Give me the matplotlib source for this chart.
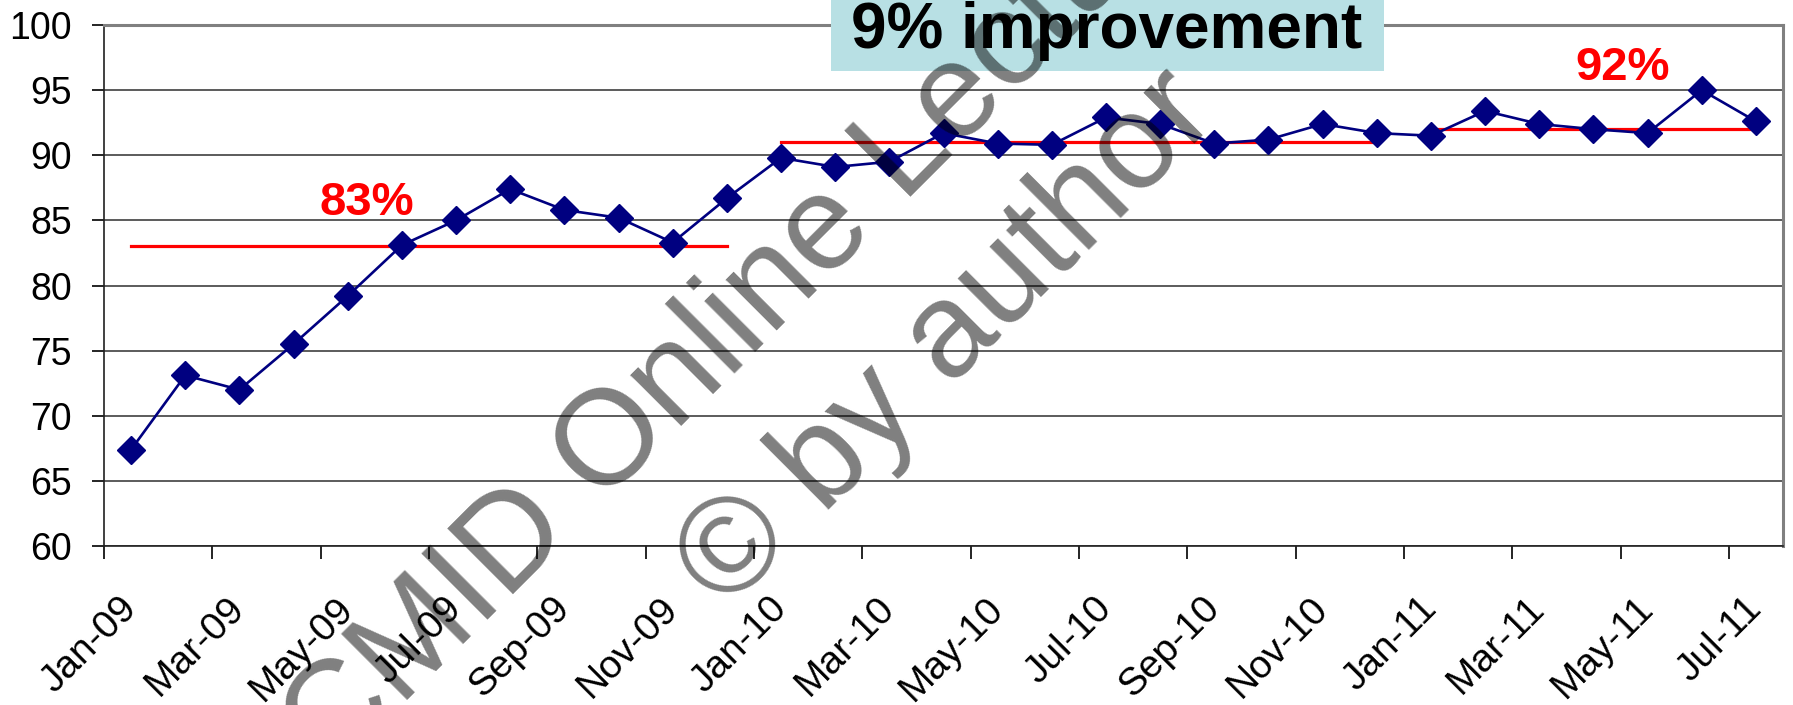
import matplotlib
matplotlib.use('Agg')
import matplotlib.pyplot as plt
from matplotlib.patches import Rectangle

plt.rcParams['font.family'] = 'Liberation Sans'

# monthly values, Jan-09 .. Jul-11
months = ['Jan-09', 'Feb-09', 'Mar-09', 'Apr-09', 'May-09', 'Jun-09', 'Jul-09', 'Aug-09',
          'Sep-09', 'Oct-09', 'Nov-09', 'Dec-09', 'Jan-10', 'Feb-10', 'Mar-10', 'Apr-10',
          'May-10', 'Jun-10', 'Jul-10', 'Aug-10', 'Sep-10', 'Oct-10', 'Nov-10', 'Dec-10',
          'Jan-11', 'Feb-11', 'Mar-11', 'Apr-11', 'May-11', 'Jun-11', 'Jul-11']
values = [67.4, 73.1, 72.0, 75.5, 79.2, 83.1, 85.0, 87.4, 85.8, 85.2, 83.3, 86.7,
          89.8, 89.1, 89.5, 91.7, 90.9, 90.8, 92.9, 92.4, 90.9, 91.2, 92.4, 91.7,
          91.5, 93.4, 92.4, 92.0, 91.7, 95.0, 92.6]

# yearly averages (start index, end index, level)
avg_start = [0, 12, 24]
avg_end = [11, 23, 30]
avg_level = [83, 91, 92]

fig = plt.figure(figsize=(17.93, 7.05), dpi=100)
ax = fig.add_axes([104 / 1793, 1 - 546 / 705, (1783 - 104) / 1793, (546 - 25) / 705])

x = list(range(len(months)))
ax.plot(x, values, color='#000080', lw=1.9, marker='D', markersize=14, zorder=4)

for s, e, lvl in zip(avg_start, avg_end, avg_level):
    ax.plot([s, e], [lvl, lvl], color='red', lw=2.3, zorder=3)

ax.text(4.35, 85.4, '83%', color='red', fontsize=34, fontweight='bold', ha='center', va='baseline')
ax.text(27.53, 95.8, '92%', color='red', fontsize=34, fontweight='bold', ha='center', va='baseline')

ax.set_xlim(-0.5, len(months) - 0.5)
ax.set_ylim(60, 100)
ax.set_yticks(range(60, 101, 5))
ax.yaxis.grid(True, color='#404040', lw=1.2)
ax.set_axisbelow(True)
ax.tick_params(axis='y', labelsize=27, length=9, width=1.2, pad=14, direction='out')

ax.set_xticks([i - 0.5 for i in range(0, len(months), 2)])
ax.set_xticklabels([])
ax.tick_params(axis='x', which='major', length=9, width=1.2, direction='out')
ax.set_xticks(range(0, len(months), 2), minor=True)
ax.set_xticklabels(months[::2], minor=True)
ax.tick_params(axis='x', which='minor', length=0, pad=41, labelsize=28)
plt.setp(ax.get_xticklabels(minor=True), rotation=45, ha='right', va='center', rotation_mode='anchor')

for side in ['top', 'right']:
    ax.spines[side].set_color('#808080')
    ax.spines[side].set_linewidth(2.2)
for side in ['left', 'bottom']:
    ax.spines[side].set_color('#202020')
    ax.spines[side].set_linewidth(1.2)

# title box
fig.add_artist(Rectangle((831 / 1793, 1 - 71 / 705), (1384 - 831) / 1793, 71 / 705,
                         transform=fig.transFigure, facecolor='#b8e0e4', edgecolor='none', zorder=5))
fig.text(1107 / 1793, 1 - 48 / 705, '9% improvement', fontsize=46, fontweight='bold',
         ha='center', va='baseline', zorder=6)

# watermark
fig.text(752 / 1793, 1 - 307 / 705, 'CMID Online Lecture', fontsize=97, color='black', alpha=0.5,
         rotation=45, rotation_mode='anchor', ha='center', va='center', zorder=10)
fig.text(948 / 1793, 1 - 340 / 705, '\u00a9 by author', fontsize=97, color='black', alpha=0.5,
         rotation=45, rotation_mode='anchor', ha='center', va='center', zorder=10)

fig.savefig('out.png', dpi=100)
